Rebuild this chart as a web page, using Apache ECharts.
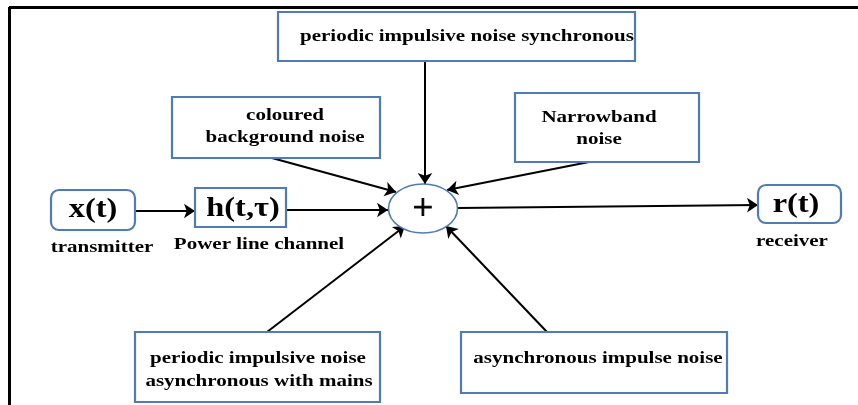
<!DOCTYPE html>
<html>
<head>
<meta charset="utf-8">
<script src="https://cdn.jsdelivr.net/npm/echarts@6/dist/echarts.min.js"></script>
<style>
  html, body { margin: 0; padding: 0; background: #fff; }
  #chart { width: 858px; height: 405px; }
</style>
</head>
<body>
<div id="chart"></div>
<script>
// ============ diagram data (page units, y downward) ============
// blocks: [x0, y0, x1, y1, rounded]
const blockNames = ['periodicSync', 'coloured', 'narrowband', 'xt', 'ht', 'rt', 'periodicAsync', 'asyncImpulse']
const blockRects = [
  [278, 12, 635, 61, 0],
  [172, 97, 380, 158, 0],
  [515, 93, 699, 162, 0],
  [51, 190, 135, 230, 1],
  [195, 188, 286, 227, 0],
  [758, 185, 841, 223, 1],
  [135, 332, 380, 402, 0],
  [461, 332, 727, 393, 0]
]
// summing junction: [cx, cy, rx, ry]
const adder = [423, 208.5, 34.5, 24.5]

// text: [x, y, text, big]
const labels = [
  [467, 36, 'periodic impulsive noise synchronous', 0],
  [285, 115, 'coloured', 0],
  [285, 137, 'background noise', 0],
  [599, 117, 'Narrowband', 0],
  [599, 139, 'noise', 0],
  [93, 210, 'x(t)', 1],
  [243, 209, 'h(t,τ)', 1],
  [796, 205, 'r(t)', 1],
  [102, 247, 'transmitter', 0],
  [259, 244, 'Power line channel', 0],
  [792, 241, 'receiver', 0],
  [258, 358, 'periodic impulsive noise', 0],
  [259, 381, 'asynchronous with mains', 0],
  [598, 358, 'asynchronous impulse noise', 0]
]

// arrows: [[x, y], [x, y]]
const arrows = [
  [[135, 211], [195, 211]],
  [[286, 210], [388, 210]],
  [[458, 208], [758, 205]],
  [[425, 61], [425, 184]],
  [[272, 158], [396, 192]],
  [[589, 162], [447, 190]],
  [[267, 332], [405, 226]],
  [[547, 332], [446, 226]]
]

// outer frame edges
const frame = [
  [[9, 7], [858, 7]],
  [[9, 7], [9, 405]]
]

const BLUE = '#4f7db3'
const FONT = '"Liberation Serif", "DejaVu Serif", serif'
const STRETCH = 1.2

const chart = echarts.init(document.getElementById('chart'))

chart.setOption({
  animation: false,
  backgroundColor: '#fff',
  grid: { left: 0, right: 0, top: 0, bottom: 0 },
  xAxis: { type: 'value', min: 0, max: 858, show: false },
  yAxis: { type: 'value', min: 0, max: 405, inverse: true, show: false },
  series: [
    {
      type: 'lines',
      coordinateSystem: 'cartesian2d',
      symbol: 'none',
      lineStyle: { color: '#000', width: 3, opacity: 1 },
      data: frame.map((c) => ({ coords: c }))
    },
    {
      type: 'lines',
      coordinateSystem: 'cartesian2d',
      symbol: ['none', 'arrow'],
      symbolSize: [0, 11],
      lineStyle: { color: '#000', width: 2, opacity: 1 },
      data: arrows.map((c) => ({ coords: c }))
    },
    {
      type: 'custom',
      coordinateSystem: 'cartesian2d',
      data: blockRects.map((b, i) => ({ name: blockNames[i], value: b })),
      renderItem: (params, api) => {
        const p0 = api.coord([api.value(0), api.value(1)])
        const p1 = api.coord([api.value(2), api.value(3)])
        return {
          type: 'rect',
          shape: { x: p0[0], y: p0[1], width: p1[0] - p0[0], height: p1[1] - p0[1], r: api.value(4) ? 8 : 0 },
          style: { fill: '#fff', stroke: BLUE, lineWidth: 2.2 }
        }
      }
    },
    {
      type: 'custom',
      coordinateSystem: 'cartesian2d',
      data: [adder],
      renderItem: (params, api) => {
        const c = api.coord([api.value(0), api.value(1)])
        const e = api.coord([api.value(0) + api.value(2), api.value(1) + api.value(3)])
        return {
          type: 'group',
          children: [
            {
              type: 'ellipse',
              shape: { cx: c[0], cy: c[1], rx: e[0] - c[0], ry: e[1] - c[1] },
              style: { fill: '#fff', stroke: BLUE, lineWidth: 1.6 }
            },
            {
              type: 'text',
              x: c[0],
              y: c[1] + 1,
              style: {
                x: 0, y: 0, text: '+', fontFamily: FONT, fontSize: 36, fill: '#000',
                stroke: '#000', lineWidth: 0.9, align: 'center', verticalAlign: 'middle'
              }
            }
          ]
        }
      }
    },
    {
      type: 'custom',
      coordinateSystem: 'cartesian2d',
      data: labels.map((l) => ({ value: [l[0], l[1], l[3]], name: l[2] })),
      renderItem: (params, api) => {
        const p = api.coord([api.value(0), api.value(1)])
        const big = api.value(2)
        return {
          type: 'text',
          x: p[0],
          y: p[1],
          scaleX: STRETCH,
          style: {
            x: 0,
            y: 0,
            text: labels[params.dataIndex][2],
            fontFamily: FONT,
            fontWeight: 'bold',
            fontSize: big ? 27 : 17.5,
            fill: '#000',
            align: 'center',
            verticalAlign: 'middle'
          }
        }
      }
    }
  ]
})
</script>
</body>
</html>
